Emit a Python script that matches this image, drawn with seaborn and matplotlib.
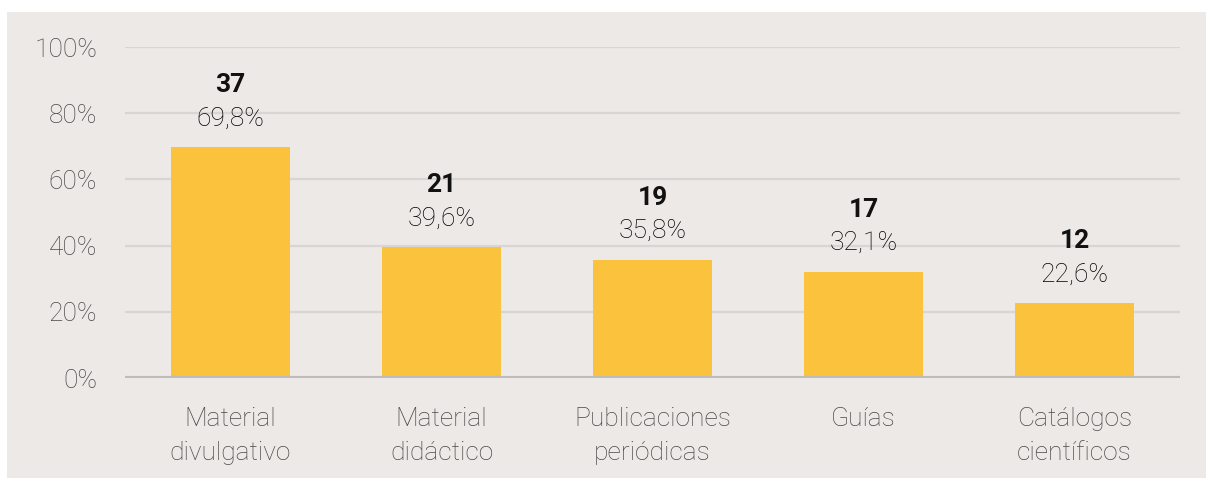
import matplotlib
matplotlib.use("Agg")
import matplotlib.pyplot as plt
from matplotlib.patches import Rectangle
import seaborn as sns
import pandas as pd

categories = ["Material\ndivulgativo", "Material\ndidáctico", "Publicaciones\nperiódicas",
              "Guías", "Catálogos\ncientíficos"]
counts = [37, 21, 19, 17, 12]
percents = [69.8, 39.6, 35.8, 32.1, 22.6]
yticks = [0, 20, 40, 60, 80, 100]

sns.set_theme(style="white")
plt.rcParams["font.family"] = ["Roboto", "DejaVu Sans"]

bg = "#ECE9E6"
bar_color = "#FBC23E"

fig = plt.figure(figsize=(12.06, 4.78), dpi=100, facecolor="white")
fig.patches.append(Rectangle((7 / 1206, 0), 1 - 7 / 1206, 1 - 12 / 478,
                             transform=fig.transFigure, facecolor=bg,
                             edgecolor="none", zorder=-5))
ax = fig.add_axes([125 / 1206, 100 / 478, 1055 / 1206, 331 / 478])
ax.patch.set_alpha(0)

df = pd.DataFrame({"categoria": categories, "porcentaje": percents, "n": counts})
sns.barplot(data=df, x="categoria", y="porcentaje", color=bar_color,
            width=0.56, saturation=1, linewidth=0, ax=ax, zorder=3)

ax.set_xlim(-0.5, len(categories) - 0.5)
ax.set_ylim(0, 100)
ax.set_yticks(yticks)
ax.set_yticklabels([f"{v}%" for v in yticks])
for v in yticks[1:]:
    ax.axhline(v, color="#D8D6D4", lw=1.6, zorder=1)
ax.axhline(0, color="#BDBCBB", lw=3, zorder=4)

for s in ax.spines.values():
    s.set_visible(False)
ax.tick_params(axis="both", length=0, labelsize=19, labelcolor="#4A4A4A")
ax.tick_params(axis="y", pad=20)
ax.tick_params(axis="x", pad=21)
ax.set_xlabel("")
ax.set_ylabel("")
for lbl in ax.get_xticklabels() + ax.get_yticklabels():
    lbl.set_fontweight("light")
for lbl in ax.get_xticklabels():
    lbl.set_linespacing(1.5)

for i, (p, n) in enumerate(zip(percents, counts)):
    ax.annotate(f"{p:.1f}%".replace(".", ","), (i, p), xytext=(0, 12),
                textcoords="offset points", ha="center", va="bottom",
                fontsize=19, fontweight="light", color="#000000")
    ax.annotate(f"{n}", (i, p), xytext=(0, 36), textcoords="offset points",
                ha="center", va="bottom", fontsize=19, fontweight="bold",
                color="#111111")

fig.savefig("out.png", dpi=100, facecolor=fig.get_facecolor())
